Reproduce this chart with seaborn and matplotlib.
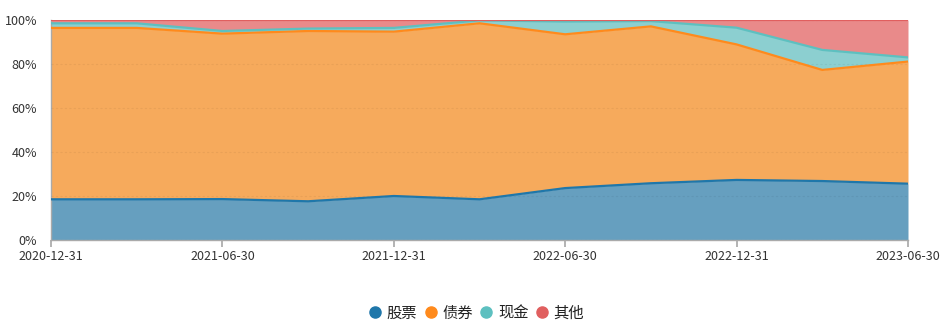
import matplotlib
matplotlib.use("Agg")
import matplotlib.pyplot as plt
import seaborn as sns
import pandas as pd
import numpy as np
from matplotlib.lines import Line2D

dates = ["2020-12-31", "2021-03-31", "2021-06-30", "2021-09-30", "2021-12-31",
         "2022-03-31", "2022-06-30", "2022-09-30", "2022-12-31", "2023-03-31", "2023-06-30"]
stock = [18.5, 18.5, 18.6, 17.6, 20.0, 18.5, 23.6, 25.8, 27.3, 26.8, 25.6]
bond = [77.9, 77.9, 75.2, 77.4, 74.7, 80.0, 69.9, 71.3, 61.6, 50.5, 55.5]
cash = [2.1, 2.1, 1.2, 1.1, 1.7, 1.3, 5.8, 2.4, 7.6, 9.1, 1.9]
other = [1.5, 1.5, 5.0, 3.9, 3.6, 0.2, 0.7, 0.5, 3.5, 13.6, 17.0]
series_names = ["股票", "债券", "现金", "其他"]
tick_dates = ["2020-12-31", "2021-06-30", "2021-12-31", "2022-06-30", "2022-12-31", "2023-06-30"]

line_colors = ["#1f77aa", "#ff8a1c", "#5dc0c0", "#e05f5f"]
fill_colors = ["#669fbf", "#f6aa5c", "#8ccfd0", "#e98a8a"]

sns.set_theme(style="white")
plt.rcParams['font.family'] = ['Noto Sans CJK SC', 'DejaVu Sans']

fig = plt.figure(figsize=(9.5, 3.33), dpi=100)
ax = fig.add_axes([51/950, (333-240)/333, (908-51)/950, 220/333])

x = np.arange(len(dates))
vals = np.array([stock, bond, cash, other])
cum = np.cumsum(vals, axis=0)
totals = cum[-1]
cum = cum / totals * 100
lower = np.zeros(len(dates))
for i, name in enumerate(series_names):
    upper = cum[i]
    ax.fill_between(x, lower, upper, color=fill_colors[i], linewidth=0, zorder=2)
    df = pd.DataFrame({"x": x, "y": upper})
    sns.lineplot(data=df, x="x", y="y", ax=ax, color=line_colors[i], linewidth=1.6, zorder=3)
    lower = upper

ax.set_xlim(0, len(dates) - 1)
ax.set_ylim(0, 100)
tick_pos = [dates.index(d) for d in tick_dates]
ax.set_xticks(tick_pos)
ax.set_xticklabels(tick_dates, fontsize=9, color="#333333")
ax.set_yticks([0, 20, 40, 60, 80, 100])
ax.set_yticklabels([f"{v}%" for v in [0, 20, 40, 60, 80, 100]], fontsize=9, color="#333333")
ax.set_xlabel("")
ax.set_ylabel("")
ax.yaxis.grid(True, linestyle=(0, (2, 2)), color="#000000", alpha=0.05, linewidth=0.8, zorder=2.5)
ax.set_axisbelow(False)
for s in ["top", "right"]:
    ax.spines[s].set_visible(False)
for s in ["left", "bottom"]:
    ax.spines[s].set_color("#aaaaaa")
    ax.spines[s].set_linewidth(1)
ax.tick_params(axis="x", bottom=True, length=5, color="#aaaaaa", pad=2)
ax.tick_params(axis="y", left=False, pad=4)

handles = [Line2D([0], [0], marker="o", linestyle="", markersize=8,
                  markerfacecolor=c, markeredgecolor=c) for c in line_colors]
fig.legend(handles, series_names, loc="center", bbox_to_anchor=(0.5, (333-313)/333),
           ncol=4, frameon=False, fontsize=11, handletextpad=0.15, columnspacing=0.3,
           handlelength=1.2, labelcolor="#222222")

fig.savefig("out.png", dpi=100)
